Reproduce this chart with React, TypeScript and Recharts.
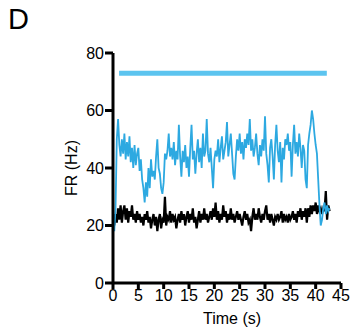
import { Label, Line, LineChart, XAxis, YAxis } from "recharts";

// firing rate sampled every 0.25 s, first sample at t = 0.25 s
const STEP = 0.25;

const blueFR = [
  18, 26, 50, 57,
  48, 44, 50, 45,
  52, 43, 49, 44,
  51, 42, 47, 40,
  48, 41, 45, 47,
  39, 43, 36, 33,
  28, 35, 30, 40,
  33, 43, 37, 39,
  36, 44, 50, 40,
  38, 33, 31, 35,
  45, 43, 46, 52,
  44, 47, 43, 49,
  41, 46, 43, 55,
  44, 37, 46, 42,
  48, 40, 44, 37,
  47, 55, 43, 46,
  38, 45, 50, 42,
  47, 40, 52, 44,
  46, 57, 45, 42,
  47, 40, 33, 43,
  46, 44, 50, 42,
  47, 51, 43, 46,
  49, 56, 44, 48,
  52, 45, 38, 36,
  44, 50, 46, 52,
  45, 49, 43, 50,
  47, 52, 48, 57,
  46, 50, 44, 47,
  52, 45, 41, 48,
  44, 50, 46, 58,
  45, 41, 35, 47,
  50, 44, 36, 48,
  55, 46, 42, 49,
  35, 47, 43, 50,
  48, 52, 46, 49,
  37, 48, 55, 45,
  49, 44, 52, 47,
  40, 48, 46, 36,
  33, 48, 52, 55,
  60, 57, 52, 48,
  45, 36, 27, 20,
  22, 26, 28, 24,
  27, 25, 26,
];

const blackFR = [
  20, 24, 21, 26,
  22, 27, 21, 25,
  27, 22, 26, 21,
  25, 23, 27, 22,
  24, 21, 25, 22,
  24, 21, 23, 20,
  24, 22, 25, 21,
  23, 19, 22, 24,
  20, 23, 18, 22,
  24, 19, 22, 21,
  30, 20, 23, 22,
  25, 21, 24, 22,
  23, 19, 22, 24,
  21, 25, 22, 24,
  20, 23, 25, 21,
  24, 22, 26, 21,
  23, 19, 22, 25,
  21, 24, 22, 26,
  22, 24, 21, 23,
  25, 22, 26, 23,
  28, 22, 25, 21,
  24, 22, 27, 23,
  25, 21, 24, 22,
  26, 22, 24, 21,
  23, 25, 22, 24,
  22, 20, 23, 25,
  22, 24, 21, 22,
  18, 23, 26, 22,
  24, 22, 26, 23,
  21, 24, 22, 25,
  27, 22, 24, 21,
  24, 22, 20, 23,
  22, 24, 22, 23,
  25, 21, 24, 22,
  23, 21, 24, 22,
  23, 25, 22, 24,
  21, 25, 23, 26,
  22, 25, 23, 26,
  21, 26, 23, 27,
  24, 27, 25, 28,
  24, 27, 25, 26,
  24, 26, 25, 32,
  22, 27, 25,
];

// stimulation period bar
const stimStart = 1.2;
const stimEnd = 42.2;
const stimLevel = 73;

const xTicks = [0, 5, 10, 15, 20, 25, 30, 35, 40, 45];
const yTicks = [0, 20, 40, 60, 80];

const data = blueFR.map((v, i) => ({
  t: (i + 1) * STEP,
  blue: v,
  black: blackFR[i],
}));
const stimData = [
  { t: stimStart, stim: stimLevel },
  { t: stimEnd, stim: stimLevel },
];

const font = "'Liberation Sans', Arial, sans-serif";
const axisLine = { stroke: "#000", strokeWidth: 3 };

export default function App() {
  return (
    <div style={{ position: "absolute", left: 0, top: 0, width: 352, height: 327, background: "#fff", fontFamily: font }}>
      <div style={{ position: "absolute", left: 8, top: 3, fontSize: 29, lineHeight: "normal", color: "#000" }}>D</div>
      <LineChart
        width={352}
        height={327}
        data={data}
        margin={{ top: 53, right: 11, bottom: 0, left: 0 }}
        style={{ fontFamily: font }}
      >
        <XAxis
          dataKey="t"
          type="number"
          domain={[0, 45]}
          ticks={xTicks}
          interval={0}
          axisLine={axisLine}
          tickLine={axisLine}
          tickSize={6}
          tickMargin={1}
          tick={{ fill: "#000", fontSize: 16 }}
          height={44}
        >
          <Label value="Time (s)" position="insideBottom" offset={3} fill="#000" fontSize={16} dx={5} />
        </XAxis>
        <YAxis
          type="number"
          domain={[0, 80]}
          ticks={yTicks}
          interval={0}
          width={113}
          axisLine={axisLine}
          tickLine={axisLine}
          tickSize={8}
          tickMargin={1}
          tick={{ fill: "#000", fontSize: 16 }}
        >
          <Label value="FR (Hz)" angle={-90} position="center" dx={15} fill="#000" fontSize={16} />
        </YAxis>
        <Line
          data={stimData}
          dataKey="stim"
          stroke="#5cc4ef"
          strokeWidth={5}
          dot={false}
          isAnimationActive={false}
        />
        <Line
          dataKey="black"
          stroke="#000"
          strokeWidth={2.2}
          dot={false}
          type="linear"
          isAnimationActive={false}
        />
        <Line
          dataKey="blue"
          stroke="#2da9e1"
          strokeWidth={1.8}
          dot={false}
          type="linear"
          isAnimationActive={false}
        />
      </LineChart>
    </div>
  );
}
